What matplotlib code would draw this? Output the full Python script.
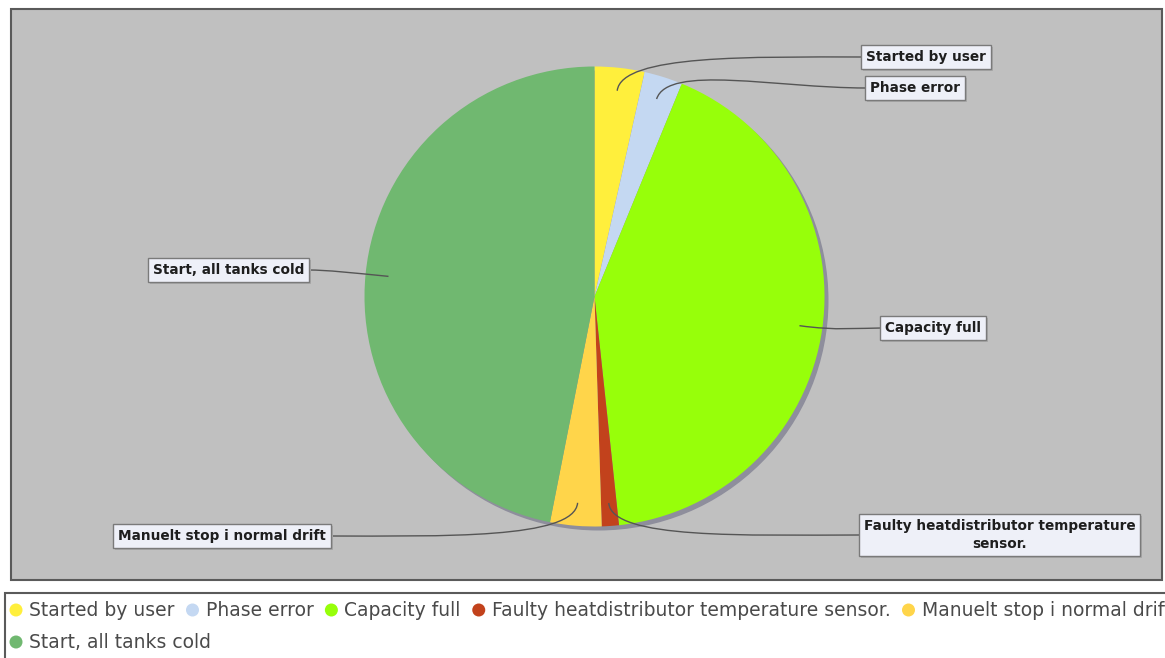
import textwrap

import matplotlib
matplotlib.use("Agg")
import matplotlib.pyplot as plt
import numpy as np
from matplotlib.patches import Rectangle, Circle, PathPatch
from matplotlib.path import Path

categories = ["Started by user", "Phase error", "Capacity full",
              "Faulty heatdistributor temperature sensor.",
              "Manuelt stop i normal drift", "Start, all tanks cold"]
shares = [3.5, 2.7, 42.1, 1.2, 3.6, 46.9]
slice_colors = ["#FFEF3C", "#C4D8F2", "#97FF0A", "#C2421C", "#FFD54A", "#70B870"]

# label boxes: (side, box edge x, centre y) in pixels
label_spots = [("right", 862, 57), ("right", 866, 88), ("right", 881, 328),
               ("right", 860, 535), ("left", 330, 536), ("left", 308, 270)]

W, H = 1165, 658
cx, cy, R = 594.5, 296.5, 230
label_size = 9.8

fig = plt.figure(figsize=(W / 100, H / 100), dpi=100)
fig.patch.set_facecolor("white")
ax = fig.add_axes([0, 0, 1, 1])

# plot background
ax.add_patch(Rectangle((11, 9), 1151, 571, fc="#C0C0C0", ec="#5A5A5A", lw=1.5, zorder=0))

# pie shadow + slices (y axis points down, so counterclock draws clockwise on screen)
ax.add_patch(Circle((cx + 4, cy + 4), R, fc="#8E8E9C", ec="none", zorder=1))
wedges, _ = ax.pie(shares, colors=slice_colors, startangle=-90, counterclock=True,
                   center=(cx, cy), radius=R, wedgeprops=dict(lw=0, zorder=2))

total = sum(shares)
cum = np.cumsum([0] + shares[:-1])
pad_px = 0.3 * label_size * 100 / 72


def on_circle(theta, r):
    return cx + r * np.sin(theta), cy - r * np.cos(theta)


for name, start, share, (side, edge_x, ly) in zip(categories, cum, shares, label_spots):
    theta = 2 * np.pi * (start + share / 2) / total
    text = textwrap.fill(name, 34)
    if side == "right":
        tx, ha = edge_x + pad_px, "left"
    else:
        tx, ha = edge_x - pad_px, "right"
    box = dict(boxstyle="square,pad=0.35", fc="#EEF0F8", ec="#7A7A7A", lw=1)
    shadow = dict(boxstyle="square,pad=0.35", fc="#A9A9A9", ec="none")
    style = dict(ha=ha, va="center", multialignment="center", fontsize=label_size,
                 family="DejaVu Sans", fontweight="bold", linespacing=1.45)
    ax.text(tx + 2, ly + 2, text, color="none", bbox=shadow, zorder=4, **style)
    ax.text(tx, ly, text, color="#1E1E1E", bbox=box, zorder=5, **style)

    # curved link from inside the slice out to the label box
    p0 = on_circle(theta, 0.9 * R)
    p1 = on_circle(theta, 1.06 * R)
    p3 = (edge_x, ly)
    p2 = (p3[0] - 0.45 * (p3[0] - p1[0]), ly)
    link = Path([p0, p1, p2, p3], [Path.MOVETO, Path.CURVE4, Path.CURVE4, Path.CURVE4])
    ax.add_patch(PathPatch(link, fc="none", ec="#555555", lw=1, zorder=3))

# legend strip
ax.add_patch(Rectangle((5, 593), W, 70, fc="white", ec="#5A5A5A", lw=1.5, zorder=1))
renderer = fig.canvas.get_renderer()
rows = [categories[:5], categories[5:]]
row_y = [610, 642]
k = 0
for items, y in zip(rows, row_y):
    x = 16
    for name in items:
        ax.add_patch(Circle((x, y), 6.5, fc=slice_colors[k], ec="none", zorder=2))
        t = ax.text(x + 13, y, name, ha="left", va="center", fontsize=13.5,
                    family="DejaVu Sans", color="#4A4A4A", zorder=2)
        x += 13 + t.get_window_extent(renderer).width + 18
        k += 1

ax.set_xlim(0, W)
ax.set_ylim(H, 0)
ax.set_aspect("auto")
ax.axis("off")

fig.savefig("out.png", dpi=100)
